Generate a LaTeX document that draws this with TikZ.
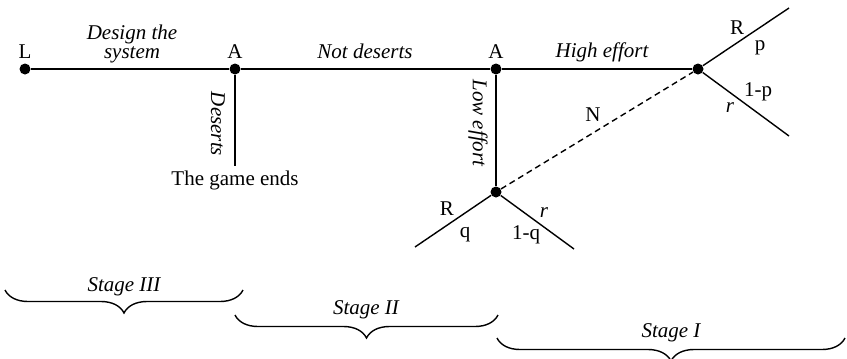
\documentclass[tikz,border=0pt]{standalone}
\usepackage{fontspec}
\setmainfont{Liberation Serif}
\usetikzlibrary{decorations.pathreplacing}

\begin{document}
\begin{tikzpicture}[x=0.5pt, y=-0.5pt,
  every node/.style={font=\fontsize{10.5}{9.5}\selectfont},
  dot/.style={circle, fill=black, inner sep=0pt, minimum size=5.5pt},
  edge/.style={line width=0.7pt},
  act/.style={font=\fontsize{10.5}{9.5}\selectfont\itshape, align=center},
  stagebrace/.style={decorate, decoration={brace, mirror, amplitude=11.5pt},
                     line width=0.7pt},
]
  \useasboundingbox (0,0) rectangle (847,359);

  % decision nodes
  \node[dot] (L)  at (25,69)  {};
  \node[dot] (A1) at (235,69) {};
  \node[dot] (A2) at (496,69) {};
  \node[dot] (Nh) at (698,69) {};
  \node[dot] (Nl) at (496,192) {};
  \coordinate (ends) at (235,166);
  \coordinate (hR) at (789,8);
  \coordinate (hr) at (789,136);
  \coordinate (lR) at (415,247);
  \coordinate (lr) at (574,249);

  \draw[edge] (L) -- (A1);
  \draw[edge] (A1) -- (A2);
  \draw[edge] (A2) -- (Nh);
  \draw[edge] (A1) -- (ends);
  \draw[edge] (A2) -- (Nl);
  \draw[edge, dash pattern=on 3pt off 2pt] (Nl) -- (Nh);
  \draw[edge] (Nh) -- (hR);
  \draw[edge] (Nh) -- (hr);
  \draw[edge] (Nl) -- (lR);
  \draw[edge] (Nl) -- (lr);

  % players
  \node[anchor=base] (tL)  at (25,58)  {L};
  \node[anchor=base] (tA1) at (235,58) {A};
  \node[anchor=base] (tA2) at (496,58) {A};
  \node (tN) at (593,115) {N};

  % actions
  \node[act] (design) at (132,44) {Design the\\system};
  \node[act, anchor=base] (notdes) at (365,58) {Not deserts};
  \node[act, anchor=base] (high) at (602,57) {High effort};
  \node[act, rotate=-90] (des) at (218,124) {Deserts};
  \node[act, rotate=-90] (low) at (478,123) {Low effort};
  \node[anchor=base] (gameend) at (235,185) {The game ends};

  % outcomes
  \node (hRl) at (737,28) {R};
  \node (hp)  at (760,48) {p};
  \node (h1p) at (758,92) {1-p};
  \node[act] (hrl) at (730,108) {r};
  \node (lRl) at (447,209) {R};
  \node (lq)  at (465,235) {q};
  \node (l1q) at (526,235) {1-q};
  \node[act] (lrl) at (544,213) {r};

  % stages
  \coordinate (s3a) at (5,290);
  \coordinate (s3b) at (243,290);
  \coordinate (s2a) at (235,315);
  \coordinate (s2b) at (498,315);
  \coordinate (s1a) at (497,338);
  \coordinate (s1b) at (845,338);
  \draw[stagebrace] (s3a) -- (s3b);
  \draw[stagebrace] (s2a) -- (s2b);
  \draw[stagebrace] (s1a) -- (s1b);
  \node[act, anchor=base] (st3) at (124,291) {Stage III};
  \node[act, anchor=base] (st2) at (366,314) {Stage II};
  \node[act, anchor=base] (st1) at (671,337) {Stage I};
\end{tikzpicture}
\end{document}
